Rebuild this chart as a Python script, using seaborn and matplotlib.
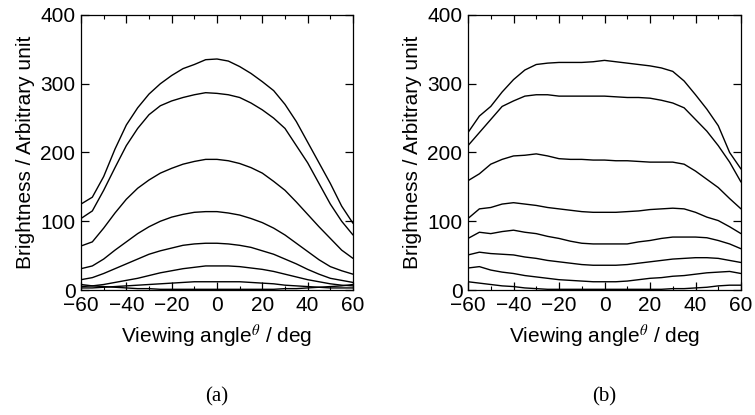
import matplotlib
matplotlib.use('Agg')
import matplotlib.pyplot as plt
import seaborn as sns
import pandas as pd
from matplotlib.ticker import MultipleLocator

# viewing angle grid (deg)
angles = [-60, -55, -50, -45, -40, -35, -30, -25, -20, -15, -10, -5, 0,
          5, 10, 15, 20, 25, 30, 35, 40, 45, 50, 55, 60]

# panel (a): brightness curves, top to bottom
a1 = [125, 135, 165, 205, 240, 265, 285, 300, 312, 322, 328, 335, 336, 333, 325, 315, 303, 290, 270, 245, 215, 185, 155, 122, 97]
a2 = [104, 115, 145, 178, 210, 235, 255, 268, 275, 280, 284, 287, 286, 284, 280, 272, 262, 250, 235, 210, 185, 155, 125, 100, 80]
a3 = [64, 70, 90, 112, 132, 148, 160, 170, 177, 183, 187, 190, 190, 188, 184, 178, 170, 158, 145, 128, 110, 92, 75, 58, 46]
a4 = [31, 35, 45, 58, 70, 82, 92, 100, 106, 110, 113, 114, 114, 112, 109, 104, 98, 90, 80, 68, 56, 44, 34, 28, 23]
a5 = [15, 18, 24, 31, 38, 45, 52, 57, 61, 65, 67, 68, 68, 67, 65, 62, 57, 52, 45, 38, 30, 23, 17, 14, 11]
a6 = [5, 6, 8, 11, 14, 17, 21, 25, 28, 31, 33, 35, 35, 35, 34, 32, 30, 27, 23, 19, 15, 12, 9, 7, 6]
a7 = [3, 3, 4, 5, 6, 7, 8, 9, 10, 11, 12, 12, 12, 12, 12, 11, 10, 9, 7, 6, 5, 4, 3, 3, 3]
a8 = [8, 6, 5, 4, 3, 2, 2, 1, 1, 1, 1, 1, 1, 1, 1, 1, 1, 1, 2, 2, 3, 4, 5, 6, 8]

# panel (b)
b1 = [229, 253, 267, 288, 306, 320, 328, 330, 331, 331, 331, 332, 334, 332, 330, 328, 326, 323, 318, 304, 284, 263, 239, 200, 176]
b2 = [210, 229, 248, 267, 275, 282, 284, 284, 282, 282, 282, 282, 282, 281, 280, 280, 279, 276, 272, 265, 248, 231, 210, 186, 157]
b3 = [159, 169, 183, 190, 195, 196, 198, 195, 191, 190, 190, 189, 189, 188, 188, 187, 186, 186, 186, 183, 173, 161, 149, 133, 118]
b4 = [104, 118, 120, 125, 127, 125, 123, 120, 118, 116, 114, 113, 113, 113, 114, 115, 117, 118, 119, 118, 113, 106, 101, 92, 82]
b5 = [75, 84, 82, 85, 87, 84, 82, 78, 75, 71, 68, 67, 67, 67, 67, 70, 72, 75, 77, 77, 77, 76, 72, 67, 60]
b6 = [51, 55, 53, 52, 51, 48, 46, 43, 41, 39, 37, 36, 36, 36, 37, 39, 41, 43, 45, 46, 47, 47, 46, 43, 40]
b7 = [32, 34, 29, 26, 24, 21, 19, 17, 15, 14, 13, 12, 12, 12, 13, 15, 17, 18, 20, 21, 23, 25, 26, 27, 24]
b8 = [12, 10, 8, 6, 5, 3, 2, 1, 1, 1, 1, 1, 1, 1, 1, 1, 1, 1, 2, 2, 3, 4, 6, 7, 7]

panel_a = [a1, a2, a3, a4, a5, a6, a7, a8]
panel_b = [b1, b2, b3, b4, b5, b6, b7, b8]


def to_long(curves):
    rows = []
    for i, vals in enumerate(curves):
        for ang, v in zip(angles, vals):
            rows.append({'angle': ang, 'brightness': v, 'curve': i})
    return pd.DataFrame(rows)


sns.set_style('ticks')
plt.rcParams['font.family'] = ['Liberation Sans', 'DejaVu Sans']
plt.rcParams['mathtext.fontset'] = 'stix'
plt.rcParams['text.color'] = 'black'
plt.rcParams['axes.labelcolor'] = 'black'
plt.rcParams['xtick.color'] = 'black'
plt.rcParams['ytick.color'] = 'black'

fig = plt.figure(figsize=(7.55, 4.15), dpi=100)
ax_a = fig.add_axes([81 / 755, 1 - 290 / 415, 272 / 755, 275 / 415])
ax_b = fig.add_axes([468 / 755, 1 - 290 / 415, 273 / 755, 275 / 415])

for ax, curves, tag, cx in [(ax_a, panel_a, '(a)', 217), (ax_b, panel_b, '(b)', 604)]:
    sns.lineplot(data=to_long(curves), x='angle', y='brightness', units='curve',
                 estimator=None, color='black', lw=1.0, ax=ax, legend=False)
    ax.set_xlim(-60, 60)
    ax.set_ylim(0, 400)
    ax.xaxis.set_major_locator(MultipleLocator(20))
    ax.xaxis.set_minor_locator(MultipleLocator(10))
    ax.yaxis.set_major_locator(MultipleLocator(100))
    ax.tick_params(which='both', direction='in', top=True, right=True,
                   labelsize=15, pad=4, color='black', labelcolor='black')
    ax.tick_params(which='major', length=6, width=0.9)
    ax.tick_params(which='minor', length=3, width=0.8)
    for s in ax.spines.values():
        s.set_linewidth(0.9)
        s.set_color('black')
    ax.set_xlabel(r'Viewing angle$^{\theta}$ / deg', fontsize=15, labelpad=6)
    ax.set_ylabel('Brightness / Arbitrary unit', fontsize=15, labelpad=4)
    fig.text(cx / 755, 1 - 397 / 415, tag, ha='center', va='center',
             fontsize=15, family='Liberation Serif')

fig.savefig('out.png', dpi=100)
